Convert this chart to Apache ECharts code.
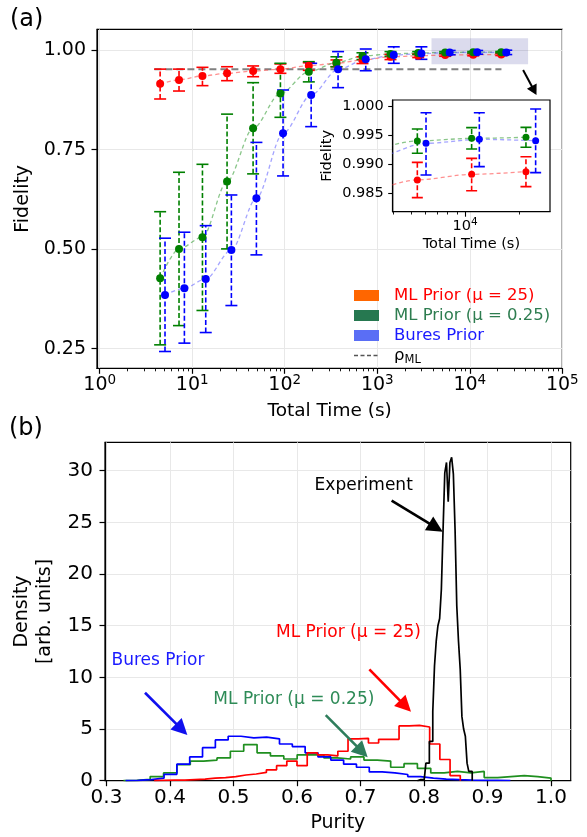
<!DOCTYPE html>
<html><head><meta charset="utf-8">
<script src="https://cdn.jsdelivr.net/npm/echarts@6.0.0/dist/echarts.min.js"></script>
<style>html,body{margin:0;padding:0;background:#fff}#c{width:587px;height:837px}</style>
</head><body><div id="c"></div>
<script>
const FONT = 'DejaVu Sans';

// ---------- Panel (a): fidelity vs total time ----------
const timesML     = [4.5, 7.2, 12.9, 23.8, 45.5, 89.8, 182, 362, 692, 1390, 2770, 5420, 10890, 21880];
const timesBures  = [5.08, 8.23, 14.0, 26.5, 49.4, 95.9, 193, 377, 751, 1508, 3000, 6060, 12020, 24780];

const fidML25  = [0.915, 0.925, 0.935, 0.9415, 0.947, 0.952, 0.9607, 0.9666, 0.975, 0.983, 0.9855, 0.9873, 0.98826, 0.98872];
const lowML25  = [0.877, 0.897, 0.9105, 0.923, 0.933, 0.9415, 0.949, 0.958, 0.966, 0.976, 0.981, 0.98425, 0.98545, 0.98614];
const highML25 = [0.952, 0.952, 0.9565, 0.958, 0.960, 0.965, 0.968, 0.975, 0.983, 0.989, 0.990, 0.99032, 0.9910, 0.99129];

const fidML025  = [0.427, 0.5006, 0.530, 0.6696, 0.8034, 0.891, 0.9456, 0.968, 0.985, 0.990, 0.9925, 0.99399, 0.99444, 0.99462];
const lowML025  = [0.2597, 0.308, 0.346, 0.5006, 0.689, 0.831, 0.920, 0.958, 0.976, 0.984, 0.989, 0.99187, 0.99261, 0.9929];
const highML025 = [0.594, 0.693, 0.713, 0.839, 0.918, 0.9666, 0.9707, 0.983, 0.993, 0.996, 0.996, 0.99605, 0.99628, 0.99633];

const fidBures  = [0.385, 0.402, 0.4253, 0.498, 0.628, 0.791, 0.887, 0.9515, 0.9767, 0.9875, 0.991, 0.99359, 0.99427, 0.99404];
const lowBures  = [0.243, 0.264, 0.2906, 0.3584, 0.4856, 0.6838, 0.8076, 0.9055, 0.948, 0.9666, 0.9766, 0.98814, 0.98958, 0.98855];
const highBures = [0.5275, 0.5425, 0.559, 0.636, 0.768, 0.8996, 0.9666, 0.996, 1.0025, 1.008, 1.008, 0.99885, 0.99885, 0.99948];

const rhoTimes = [3.9, 22000];
const rhoValue = 0.952;

const zoomBoxTimes = [3855, 42700];
const zoomBoxFid   = [0.964, 1.0294];
const zoomArrow    = [37700, 0.9498, 52600, 0.887];

const xMajorA = [1, 10, 100, 1000, 10000, 100000];
const yTicksA = [0.25, 0.50, 0.75, 1.00];
const insetXMajor = [10000];
const insetYTicks = [0.985, 0.990, 0.995, 1.000];

const legendNames = ['ML Prior (μ = 25)', 'ML Prior (μ = 0.25)', 'Bures Prior', 'ρML'];

// ---------- Panel (b): purity histograms ----------
const blueStart = 0.33, blueWidth = 0.0202;
const blueCounts = [0.03, 0.1, 0.25, 0.62, 1.6, 2.3, 3.2, 3.95, 4.3, 4.15, 4.22, 4.05, 3.55, 3.3, 2.7, 2.3, 2.0, 1.6, 1.3, 0.85, 0.75, 0.6, 0.4, 0.25, 0.15, 0.1, 0.06, 0.04, 0.03, 0.02];

const greenStart = 0.3267, greenWidth = 0.02104;
const greenCounts = [0.03, 0.12, 0.4, 0.75, 1.55, 1.9, 2.0, 2.2, 2.85, 3.5, 2.7, 2.4, 2.1, 2.5, 2.5, 2.2, 2.1, 2.3, 2.0, 1.9, 1.3, 1.65, 1.2, 0.75, 0.9, 0.75, 0.9, 0.3, 0.4, 0.5, 0.4, 0.25];

const redStart = 0.375, redWidth = 0.01607;
const redCounts = [0.03, 0.05, 0.05, 0.1, 0.15, 0.25, 0.3, 0.4, 0.55, 0.65, 0.8, 1.05, 1.45, 1.9, 1.45, 2.7, 2.5, 2.4, 2.85, 4.05, 4.1, 3.65, 4.0, 4.0, 5.3, 5.35, 5.2, 3.55, 2.05, 0.5];

const expStart = 0.7895, expWidth = 0.0027;
const expCounts = [0.1, 0.1, 0.1, 0.1, 0.1, 1.7, 1.7, 3.8, 3.8, 6.7, 11.1, 13.5, 15.0, 15.7, 18.5, 24.3, 29.8, 30.8, 27.0, 30.8, 31.3, 29.7, 24.3, 16.9, 13.5, 10.8, 6.2, 5.0, 4.3, 1.7, 0.9, 0.9];

const xTicksB = [0.3, 0.4, 0.5, 0.6, 0.7, 0.8, 0.9, 1.0];
const yTicksB = [0, 5, 10, 15, 20, 25, 30];

const annoTexts = ['Experiment', 'ML Prior (μ = 25)', 'Bures Prior', 'ML Prior (μ = 0.25)'];
const annoPos   = [[0.705, 28.6], [0.681, 14.35], [0.381, 11.58], [0.595, 7.87]];
const annoColors = ['#000000', '#ff0000', '#1a1aff', '#2e8b57'];
const arrowsB = [
  [0.749, 27.1, 0.8295, 24.1],
  [0.7139, 10.77, 0.7795, 6.67],
  [0.3606, 8.51, 0.4273, 4.42],
  [0.6452, 6.35, 0.7113, 2.26]
];
const arrowColors = ['#000000', '#ff0000', '#1010ee', '#2e7d5b'];

// ---------- helpers ----------
function minorLogTicks(lo, hi) {
  const out = [];
  for (let e = Math.floor(Math.log10(lo)); e <= Math.ceil(Math.log10(hi)); e++) {
    for (let k = 2; k <= 9; k++) { const v = k * Math.pow(10, e); if (v >= lo && v <= hi) out.push(v); }
  }
  return out;
}
function zip2(a, b) { return a.map((v, i) => [v, b[i]]); }
function zip3(a, b, c) { return a.map((v, i) => [v, b[i], c[i]]); }
function stepPath(start, width, counts) {
  const pts = [[start, 0]];
  counts.forEach((c, i) => { pts.push([start + i * width, c]); pts.push([start + (i + 1) * width, c]); });
  pts.push([start + counts.length * width, 0]);
  return pts;
}
function errRender(capHalf, lw) {
  return function (params, api) {
    const x = api.value(0);
    const lo = api.coord([x, api.value(1)]);
    const hi = api.coord([x, api.value(2)]);
    const c = api.visual('color');
    return { type: 'group', children: [
      { type: 'line', shape: { x1: lo[0], y1: lo[1], x2: hi[0], y2: hi[1] }, style: { stroke: c, lineWidth: lw, lineDash: [5, 2.5] } },
      { type: 'line', shape: { x1: lo[0] - capHalf, y1: lo[1], x2: lo[0] + capHalf, y2: lo[1] }, style: { stroke: c, lineWidth: lw } },
      { type: 'line', shape: { x1: hi[0] - capHalf, y1: hi[1], x2: hi[0] + capHalf, y2: hi[1] }, style: { stroke: c, lineWidth: lw } }
    ]};
  };
}
function arrowRender(headLen, headHalf, lw) {
  return function (params, api) {
    const p1 = api.coord([api.value(0), api.value(1)]);
    const p2 = api.coord([api.value(2), api.value(3)]);
    const dx = p2[0] - p1[0], dy = p2[1] - p1[1];
    const L = Math.hypot(dx, dy), ux = dx / L, uy = dy / L;
    const bx = p2[0] - ux * headLen, by = p2[1] - uy * headLen;
    const c = api.visual('color');
    return { type: 'group', children: [
      { type: 'line', shape: { x1: p1[0], y1: p1[1], x2: bx + ux, y2: by + uy }, style: { stroke: c, lineWidth: lw } },
      { type: 'polygon', shape: { points: [[p2[0], p2[1]], [bx - uy * headHalf, by + ux * headHalf], [bx + uy * headHalf, by - ux * headHalf]] }, style: { fill: c } }
    ]};
  };
}
const supLabel = v => '{b|10}{s|' + Math.round(Math.log10(v)) + '}';

const RED = '#ff0000', GREEN = '#008000', BLUE = '#0000ff';
const sets = [
  { key: 'r', times: timesML, fid: fidML25, lo: lowML25, hi: highML25, c: RED, fit: 'rgba(255,70,70,0.6)' },
  { key: 'g', times: timesML, fid: fidML025, lo: lowML025, hi: highML025, c: GREEN, fit: 'rgba(60,160,60,0.6)' },
  { key: 'b', times: timesBures, fid: fidBures, lo: lowBures, hi: highBures, c: BLUE, fit: 'rgba(90,90,255,0.55)' }
];

const series = [];
// shaded zoom box + rho_ML line
series.push({
  name: 'rhoLine', type: 'line', xAxisIndex: 0, yAxisIndex: 0, z: 1, symbol: 'none',
  data: zip2(rhoTimes, rhoTimes.map(() => rhoValue)),
  lineStyle: { color: '#808080', width: 2, type: [7, 4] }, itemStyle: { color: '#808080' },
  markArea: { silent: true, itemStyle: { color: 'rgba(0,0,128,0.14)' },
    data: [[{ coord: [zoomBoxTimes[0], zoomBoxFid[1]] }, { coord: [zoomBoxTimes[1], zoomBoxFid[0]] }]] }
});
// main + inset
[[0, 0, 2, 12, false], [3, 2, 8, 11, true]].forEach(([xi, yi, z0, cap, clip]) => {
  sets.forEach(s => {
    series.push({ type: 'line', xAxisIndex: xi, yAxisIndex: yi, z: z0, symbol: 'none', silent: true, clip: true,
      smooth: 0.3, smoothMonotone: 'x',
      data: zip2(s.times, s.fid), lineStyle: { color: s.fit, width: 1.3, type: [4, 3] } });
  });
  sets.forEach(s => {
    series.push({ type: 'custom', xAxisIndex: xi, yAxisIndex: yi, z: z0 + 1, clip: clip,
      renderItem: errRender(cap / 2, 1.6), itemStyle: { color: s.c },
      encode: { x: 0, y: [1, 2] }, data: zip3(s.times, s.lo, s.hi) });
  });
  sets.forEach(s => {
    series.push({ type: 'scatter', xAxisIndex: xi, yAxisIndex: yi, z: z0 + 2, symbolSize: clip ? 7 : 8, clip: true,
      itemStyle: { color: s.c, opacity: 1 }, data: zip2(s.times, s.fid) });
  });
});
// arrow to inset
series.push({ type: 'custom', xAxisIndex: 0, yAxisIndex: 0, z: 4, renderItem: arrowRender(10, 5.5, 2),
  itemStyle: { color: '#000' }, encode: { x: [0, 2], y: [1, 3] }, data: [zoomArrow] });
// dummy legend series
const patchColors = ['#ff6600', '#267850', '#5a6ef5', '#555555'];
legendNames.forEach((n, i) => {
  series.push({ name: n, type: 'scatter', xAxisIndex: 0, yAxisIndex: 0, data: [], itemStyle: { color: patchColors[i], opacity: 1 } });
});

// panel (b) histograms
const hists = [
  [greenStart, greenWidth, greenCounts, '#1f8f1f'],
  [blueStart, blueWidth, blueCounts, '#0000ff'],
  [redStart, redWidth, redCounts, '#ff0000'],
  [expStart, expWidth, expCounts, '#000000']
];
hists.forEach(([st, w, cnt, col]) => {
  series.push({ type: 'line', xAxisIndex: 2, yAxisIndex: 1, symbol: 'none', z: 3,
    data: stepPath(st, w, cnt), lineStyle: { color: col, width: 1.7 } });
});
series.push({ type: 'scatter', xAxisIndex: 2, yAxisIndex: 1, symbolSize: 0, z: 6,
  itemStyle: { opacity: 1 },
  label: { show: true, position: 'inside', fontFamily: FONT, fontSize: 17, opacity: 1, formatter: p => p.name },
  data: annoTexts.map((t, i) => ({ name: t, value: annoPos[i], label: { color: annoColors[i] } })) });
series.push({ type: 'custom', xAxisIndex: 2, yAxisIndex: 1, z: 6, renderItem: arrowRender(16, 8, 2.6),
  encode: { x: [0, 2], y: [1, 3] },
  data: arrowsB.map((a, i) => ({ value: a, itemStyle: { color: arrowColors[i] } })) });

const axisLineBlack = { show: true, onZero: false, lineStyle: { color: '#000', width: 1.2 } };
const splitGray = { show: true, lineStyle: { color: '#e8e8e8', width: 1 } };
const dashIcon = 'path://M0,0h0.01v0.01h-0.01zM24.99,10.99h0.01v0.01h-0.01zM0,4.7h4v1.6h-4zM6.5,4.7h4v1.6h-4zM13,4.7h4v1.6h-4zM19.5,4.7h4v1.6h-4z';

const option = {
  animation: false,
  backgroundColor: '#fff',
  textStyle: { fontFamily: FONT },
  grid: [
    { left: 97, top: 29.3, width: 465.3, height: 339, show: true, borderColor: '#000', borderWidth: 1.2, backgroundColor: 'transparent', outerBoundsMode: 'none' },
    { left: 105, top: 442.3, width: 465.7, height: 338.4, show: true, borderColor: '#000', borderWidth: 1.2, backgroundColor: 'transparent', outerBoundsMode: 'none' },
    { left: 392.7, top: 100, width: 157.3, height: 111.7, show: true, borderColor: '#000', borderWidth: 1.2, backgroundColor: '#fff', z: 5, outerBoundsMode: 'none' }
  ],
  xAxis: [
    { type: 'log', logBase: 10, gridIndex: 0, position: 'bottom', min: 0.935, max: 100000,
      axisLine: axisLineBlack, splitLine: splitGray,
      axisTick: { customValues: xMajorA, length: 5.5, lineStyle: { color: '#000', width: 1.2 } },
      axisLabel: { customValues: xMajorA, margin: 5, color: '#000', formatter: supLabel,
        rich: { b: { fontSize: 19, fontFamily: FONT, color: '#000' }, s: { fontSize: 13.5, fontFamily: FONT, color: '#000', padding: [0, 0, 10, 0] } } },
      name: 'Total Time (s)', nameLocation: 'middle', nameGap: 33, nameTextStyle: { fontSize: 18.5, color: '#000', fontFamily: FONT } },
    { type: 'log', logBase: 10, gridIndex: 0, position: 'bottom', min: 0.935, max: 100000,
      axisLine: { show: false }, splitLine: { show: false }, axisLabel: { show: false },
      axisTick: { customValues: minorLogTicks(0.935, 100000), length: 3, lineStyle: { color: '#000', width: 0.9 } } },
    { type: 'value', gridIndex: 1, position: 'bottom', min: 0.2976, max: 1.031,
      axisLine: axisLineBlack, splitLine: splitGray,
      axisTick: { customValues: xTicksB, length: 5.5, lineStyle: { color: '#000', width: 1.2 } },
      axisLabel: { customValues: xTicksB, margin: 7, fontSize: 20, color: '#000', fontFamily: FONT, formatter: v => v.toFixed(1) },
      name: 'Purity', nameLocation: 'middle', nameGap: 33, nameTextStyle: { fontSize: 19, color: '#000', fontFamily: FONT } },
    { type: 'log', logBase: 10, gridIndex: 2, position: 'bottom', min: 3950, max: 29800, z: 6,
      axisLine: axisLineBlack, splitLine: { show: false },
      axisTick: { customValues: insetXMajor, length: 5, lineStyle: { color: '#000', width: 1.1 } },
      axisLabel: { customValues: insetXMajor, margin: 5, color: '#000', formatter: supLabel,
        rich: { b: { fontSize: 14.5, fontFamily: FONT, color: '#000' }, s: { fontSize: 10.5, fontFamily: FONT, color: '#000', padding: [0, 0, 8, 0] } } },
      name: 'Total Time (s)', nameLocation: 'middle', nameGap: 25, nameTextStyle: { fontSize: 14.5, color: '#000', fontFamily: FONT } },
    { type: 'log', logBase: 10, gridIndex: 2, position: 'bottom', min: 3950, max: 29800, z: 6,
      axisLine: { show: false }, splitLine: { show: false }, axisLabel: { show: false },
      axisTick: { customValues: minorLogTicks(3950, 29800), length: 2.8, lineStyle: { color: '#000', width: 0.9 } } }
  ],
  yAxis: [
    { type: 'value', gridIndex: 0, min: 0.2008, max: 1.052,
      axisLine: axisLineBlack, splitLine: splitGray,
      axisTick: { customValues: yTicksA, length: 5.5, lineStyle: { color: '#000', width: 1.2 } },
      axisLabel: { customValues: yTicksA, margin: 11, fontSize: 19, color: '#000', fontFamily: FONT, formatter: v => v.toFixed(2) },
      name: 'Fidelity', nameLocation: 'middle', nameRotate: 90, nameGap: 58, nameTextStyle: { fontSize: 19, color: '#000', fontFamily: FONT } },
    { type: 'value', gridIndex: 1, min: 0, max: 32.75,
      axisLine: axisLineBlack, splitLine: splitGray,
      axisTick: { customValues: yTicksB, length: 5.5, lineStyle: { color: '#000', width: 1.2 } },
      axisLabel: { customValues: yTicksB, margin: 12, fontSize: 20, color: '#000', fontFamily: FONT, formatter: v => String(v) },
      name: 'Density\n[arb. units]', nameLocation: 'middle', nameRotate: 90, nameGap: 42,
      nameTextStyle: { fontSize: 19, lineHeight: 23, color: '#000', fontFamily: FONT, align: 'center' } },
    { type: 'value', gridIndex: 2, min: 0.98184, max: 1.00103, z: 6,
      axisLine: axisLineBlack, splitLine: { show: false },
      axisTick: { customValues: insetYTicks, length: 4.5, lineStyle: { color: '#000', width: 1.1 } },
      axisLabel: { customValues: insetYTicks, margin: 9, fontSize: 14.5, color: '#000', fontFamily: FONT, formatter: v => v.toFixed(3) },
      name: 'Fidelity', nameLocation: 'middle', nameRotate: 90, nameGap: 58, nameTextStyle: { fontSize: 14.5, color: '#000', fontFamily: FONT } }
  ],
  legend: {
    left: 349, top: 282, orient: 'vertical', itemWidth: 25, itemHeight: 11, itemGap: 3, selectedMode: false,
    textStyle: { fontFamily: FONT, fontSize: 16.5, lineHeight: 17, padding: [0, 0, 0, 10],
      rich: { r: { fontSize: 16.5, fontFamily: FONT, color: '#000' }, s: { fontSize: 11.5, fontFamily: FONT, color: '#000', padding: [9, 0, 0, 0] } } },
    formatter: n => n === 'ρML' ? '{r|ρ}{s|ML}' : n,
    data: [
      { name: legendNames[0], icon: 'rect', itemStyle: { color: patchColors[0], opacity: 1 }, textStyle: { color: '#ff0000' } },
      { name: legendNames[1], icon: 'rect', itemStyle: { color: patchColors[1], opacity: 1 }, textStyle: { color: '#2e7d50' } },
      { name: legendNames[2], icon: 'rect', itemStyle: { color: patchColors[2], opacity: 1 }, textStyle: { color: '#1a1aff' } },
      { name: legendNames[3], icon: dashIcon, itemStyle: { color: patchColors[3], opacity: 1 }, textStyle: { color: '#000' } }
    ]
  },
  graphic: [
    { type: 'text', left: 10, top: 8, style: { text: '(a)', fontSize: 24, fontFamily: FONT, fill: '#000' } },
    { type: 'text', left: 9, top: 417, style: { text: '(b)', fontSize: 24, fontFamily: FONT, fill: '#000' } }
  ],
  series: series
};
const chart = echarts.init(document.getElementById('c'), null, { renderer: 'canvas' });
chart.setOption(option);
</script></body></html>
